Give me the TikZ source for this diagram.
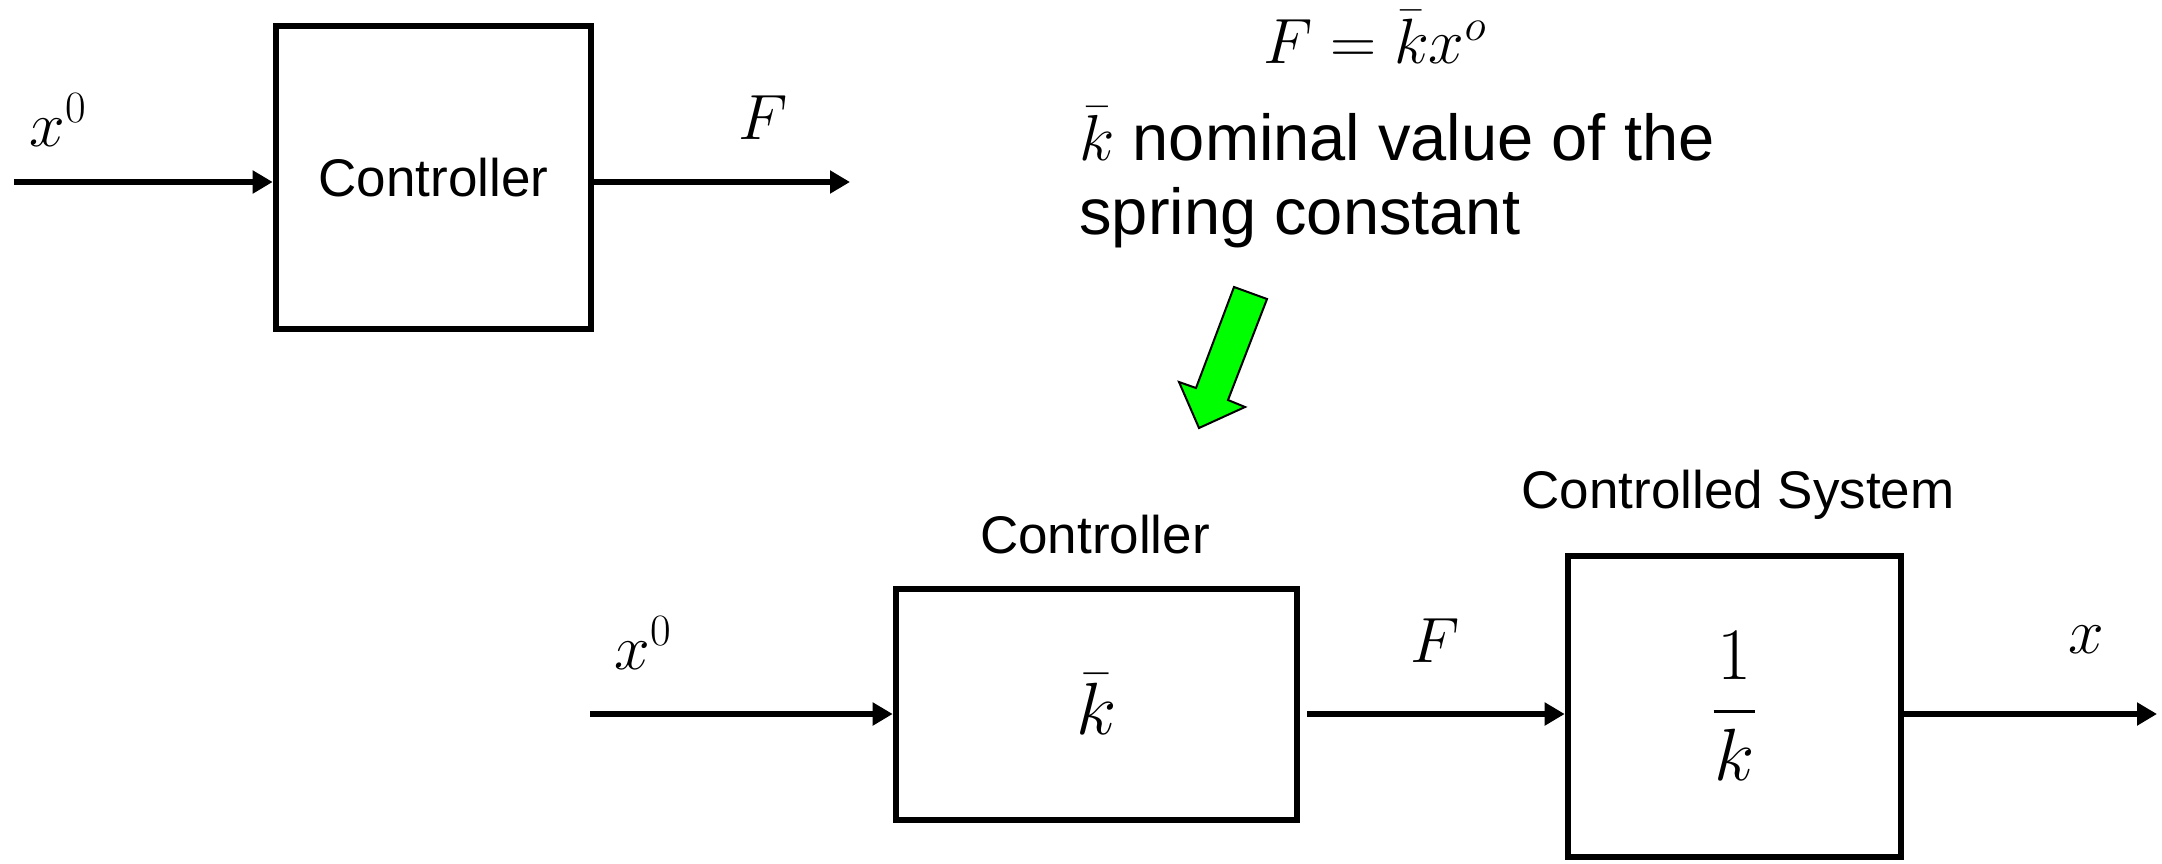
\RequirePackage{fix-cm}
\documentclass[tikz,border=0pt]{standalone}
\usepackage{amsmath}
\usepackage[no-math]{fontspec}
\newfontfamily\arialfont{Liberation Sans}
\usetikzlibrary{arrows.meta}

\tikzset{
  blk/.style={draw, line width=3.3pt, inner sep=0pt},
  sig/.style={line width=3pt, -{Triangle[length=10pt,width=11pt]}},
  txt/.style={font=\arialfont\fontsize{26.5}{32}\selectfont, inner sep=0pt},
  lbl/.style={font=\fontsize{32}{38}\selectfont, inner sep=0pt},
  gain/.style={font=\fontsize{37}{44}\selectfont},
}

\begin{document}
\begin{tikzpicture}[x=0.5pt, y=-0.5pt]
  \useasboundingbox (0,0) rectangle (2162,863);
  % oben: nur der Regler
  \coordinate (inA) at (14,182);
  \coordinate (outA) at (850,182);
  \node[blk, txt, minimum width=157.5pt, minimum height=151.5pt] (ctrlA) at (433.5,177.5) {Controller};
  \draw[sig] (inA) -- (inA -| ctrlA.west);
  \draw[sig] (ctrlA.east |- outA) -- (outA);
  \node[lbl] (xA) at (58,120) {$x^0$};
  \node[lbl] (FA) at (763,118) {$F$};
  % Regelgesetz und Erklaerung
  \node[lbl] (law) at (1375,37) {$F=\bar{k}x^o$};
  \node[lbl, font=\arialfont\fontsize{32.5}{37}\selectfont, align=left, anchor=north west] (note) at (1079,107) {$\bar{k}$ nominal value of the\\spring constant};
  \draw[fill=green, line width=1pt] (1234,287) -- (1267,299) -- (1228,400) -- (1245,407) -- (1199,428) -- (1179,382) -- (1196,388) -- cycle;
  % unten: Regler + Strecke
  \coordinate (inB) at (590,714);
  \coordinate (midB) at (1307,714);
  \coordinate (outB) at (2157,714);
  \node[blk, gain, minimum width=200.5pt, minimum height=115.5pt] (ctrlB) at (1096.5,704.5) {$\bar{k}$};
  \node[blk, gain, minimum width=166.5pt, minimum height=150.5pt] (sys) at (1734.5,706.5) {$\genfrac{}{}{1.6pt}{0}{\kern2pt 1\kern2pt}{k}$};
  \node[txt, anchor=base] (ctrlBlbl) at (1095,553) {Controller};
  \node[txt, anchor=base] (syslbl) at (1738,508) {Controlled System};
  \draw[sig] (inB) -- (inB -| ctrlB.west);
  \draw[sig] (midB) -- (midB -| sys.west);
  \draw[sig] (sys.east |- outB) -- (outB);
  \node[lbl] (xB) at (643,643) {$x^0$};
  \node[lbl] (FB) at (1435,641) {$F$};
  \node[lbl] (xout) at (2086,640) {$x$};
\end{tikzpicture}
\end{document}
